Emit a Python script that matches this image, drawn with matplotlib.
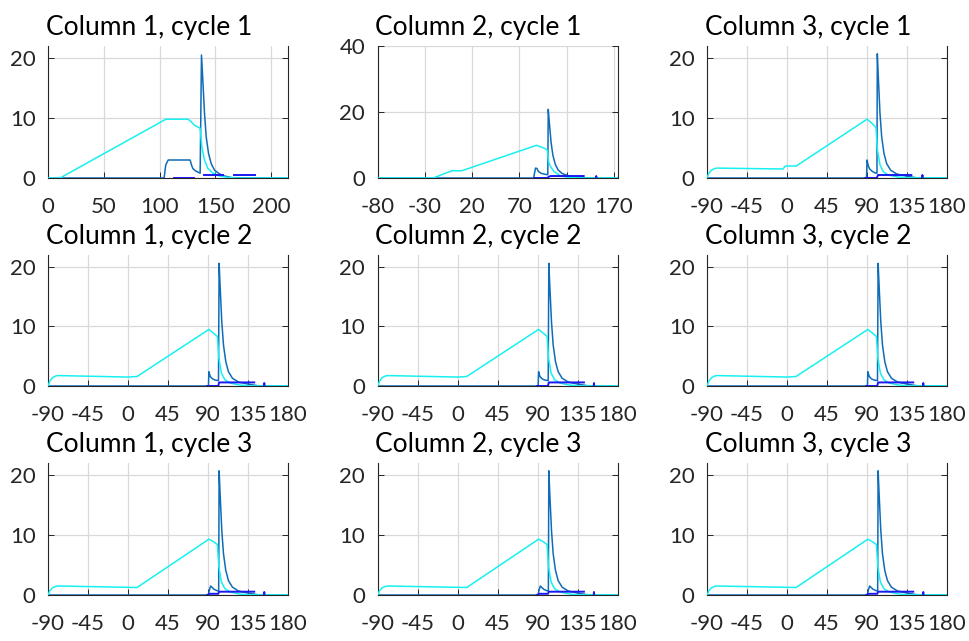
import numpy as np
import matplotlib
matplotlib.use("Agg")
import matplotlib.pyplot as plt

nan = np.nan

# ---- Column 1, cycle 1 ----
c1k1_cyan_x = [0, 10.8, 105.6, 125.5, 128.2, 131.2, 136.3, 137.8, 140.2, 143.2, 147.7, 153.7, 161, 168, 215]
c1k1_cyan_y = [0, 0, 9.8, 9.8, 9.4, 8.8, 8.3, 5.2, 3.0, 1.6, 0.8, 0.33, 0.1, 0, 0]
c1k1_mid_x = [0, 104, 105.5, 107.7, 127.3, 128.5, 129.7, 132, 136.3, 137.5, 138.7, 140.2, 141.7,
              143.8, 146.2, 149.2, 153.7, 158.2, 165, 215]
c1k1_mid_y = [0, 0, 2.2, 3.0, 3.0, 2.2, 1.6, 1.2, 0.8, 20.5, 16.3, 10.8, 6.9,
              4.1, 2.4, 1.3, 0.67, 0.33, 0.05, 0]
c1k1_blue_x = [113, 131, nan, 139.6, 156.7, nan, 167, 185]
c1k1_blue_y = [0, 0, nan, 0.5, 0.5, nan, 0.5, 0.5]

# ---- Column 2, cycle 1 ----
c2k1_cyan_x = [-80, -21.2, -1.6, 9, 88, 93, 97, 99.5, 100.8, 103, 106.5, 113.6, 124.3, 135, 174]
c2k1_cyan_y = [0, 0, 2.2, 2.2, 9.9, 9.4, 8.9, 8.4, 5.0, 3.4, 2.0, 0.6, 0.1, 0, 0]
c2k1_mid_x = [-80, 85, 86, 87, 88.5, 90, 93, 97.7, 100, 100.5, 101.6, 103.5, 105.4, 108,
              111, 115.5, 122, 130, 140, 174]
c2k1_mid_y = [0, 0, 1.5, 3.0, 2.9, 2.0, 1.4, 1.1, 1.0, 20.8, 16.9, 10.8, 6.9, 4.1,
              2.4, 1.3, 0.67, 0.3, 0.05, 0]
c2k1_blue_x = [86, 100, 100.5, 103, 138, nan, 151, 151.3, 151.6]
c2k1_blue_y = [0, 0, 0.3, 0.6, 0.6, nan, 0, 0.6, 0]

# ---- Column 3, cycle 1 ----
c3k1_cyan_x = [-90, -88, -85, -82, -78.8, -4.5, -2.5, -0.75, 10.5, 90, 95, 100.1, 101.7,
               104.6, 108.3, 114, 123.4, 135, 180]
c3k1_cyan_y = [0, 0.8, 1.3, 1.55, 1.65, 1.5, 1.9, 2.0, 2.0, 9.8, 9.2, 8.4, 4.7,
               2.2, 1.05, 0.5, 0.2, 0.02, 0]
c3k1_mid_x = [-90, 89.5, 90, 91.5, 93, 96, 99, 101.2, 101.6, 102.7, 104.6, 106.5, 109.1,
              112.1, 116.6, 123.4, 134.6, 145, 180]
c3k1_mid_y = [0, 0, 3.0, 2.0, 1.5, 1.1, 0.85, 0.8, 20.7, 16.9, 10.8, 6.9, 4.1,
              2.4, 1.3, 0.67, 0.3, 0.05, 0]
c3k1_blue_x = [88, 101, 102.4, 139.9, nan, 152, 152.3, 152.6]
c3k1_blue_y = [0, 0, 0.5, 0.5, nan, 0, 0.5, 0]

# ---- cycle 2 (all columns) ----
k2_cyan_x = [-90, -88, -85, -81, -78.3, 0.7, 5, 10.2, 91, 96, 100.6, 102.2, 105, 109, 115,
             124, 135, 180]
k2_cyan_y = [0, 0.8, 1.4, 1.7, 1.75, 1.5, 1.55, 1.6, 9.5, 8.9, 8.3, 4.7, 2.2, 1.05, 0.5,
             0.2, 0.02, 0]
k2_mid_x = [-90, 90.5, 91, 92.5, 95, 98, 101.8, 102.5, 103.6, 105.5, 107.4, 110, 113,
            117.5, 124.3, 135.5, 146, 180]
k2_mid_y = [0, 0, 2.4, 1.6, 1.2, 1.0, 0.9, 20.6, 16.9, 10.8, 6.9, 4.1, 2.4,
            1.3, 0.67, 0.3, 0.05, 0]
k2_blue_x = [89, 101.5, 102.5, 142, nan, 153, 153.3, 153.6]
k2_blue_y = [0, 0, 0.6, 0.6, nan, 0, 0.5, 0]

# ---- cycle 3 (all columns) ----
k3_cyan_x = [-90, -88, -85, -81, -78.3, 10.2, 91, 96, 100.6, 102.2, 105, 109, 115,
             124, 135, 180]
k3_cyan_y = [0, 0.7, 1.2, 1.45, 1.5, 1.25, 9.3, 8.9, 8.4, 4.7, 2.2, 1.05, 0.5,
             0.2, 0.02, 0]
k3_mid_x = [-90, 90.5, 91.5, 93, 96.8, 100.6, 102, 102.5, 103.6, 105.5, 107.4, 110, 113,
            117.5, 124.3, 135.5, 146, 180]
k3_mid_y = [0, 0, 0.8, 1.5, 0.95, 0.7, 0.65, 20.7, 16.9, 10.8, 6.9, 4.1, 2.4,
            1.3, 0.67, 0.3, 0.05, 0]
k3_blue_x = [89, 92, 101.5, 102.5, 142, nan, 153, 153.3, 153.6]
k3_blue_y = [0, 0.2, 0.2, 0.55, 0.55, nan, 0, 0.5, 0]

titles = [["Column 1, cycle 1", "Column 2, cycle 1", "Column 3, cycle 1"],
          ["Column 1, cycle 2", "Column 2, cycle 2", "Column 3, cycle 2"],
          ["Column 1, cycle 3", "Column 2, cycle 3", "Column 3, cycle 3"]]

xticks_deg = [-90, -45, 0, 45, 90, 135, 180]
xticks_c1k1 = [0, 50, 100, 150, 200]
xticks_c2k1 = [-80, -30, 20, 70, 120, 170]

CYAN = "#17F0F0"
MID = "#0F6CB8"
BLUE = "#1A1AF0"
TXT = "#262626"

plt.rcParams["font.family"] = ["Lato", "DejaVu Sans"]
plt.rcParams["axes.unicode_minus"] = False

fig = plt.figure(figsize=(9.70, 6.41), dpi=100)
W, H = 970.0, 641.0
lefts = [48, 377.7, 707]
boxes = [(46, 178), (255, 386), (463, 595)]
width = 240

for r in range(3):
    for c in range(3):
        top, bot = boxes[r]
        ax = fig.add_axes([lefts[c] / W, 1 - bot / H, width / W, (bot - top) / H])
        if r == 0 and c == 0:
            data = (c1k1_cyan_x, c1k1_cyan_y, c1k1_mid_x, c1k1_mid_y, c1k1_blue_x, c1k1_blue_y)
            xl, xt, yl, yt = (0, 215), xticks_c1k1, (0, 22), [0, 10, 20]
        elif r == 0 and c == 1:
            data = (c2k1_cyan_x, c2k1_cyan_y, c2k1_mid_x, c2k1_mid_y, c2k1_blue_x, c2k1_blue_y)
            xl, xt, yl, yt = (-80, 174), xticks_c2k1, (0, 40), [0, 20, 40]
        elif r == 0:
            data = (c3k1_cyan_x, c3k1_cyan_y, c3k1_mid_x, c3k1_mid_y, c3k1_blue_x, c3k1_blue_y)
            xl, xt, yl, yt = (-90, 180), xticks_deg, (0, 22), [0, 10, 20]
        elif r == 1:
            data = (k2_cyan_x, k2_cyan_y, k2_mid_x, k2_mid_y, k2_blue_x, k2_blue_y)
            xl, xt, yl, yt = (-90, 180), xticks_deg, (0, 22), [0, 10, 20]
        else:
            data = (k3_cyan_x, k3_cyan_y, k3_mid_x, k3_mid_y, k3_blue_x, k3_blue_y)
            xl, xt, yl, yt = (-90, 180), xticks_deg, (0, 22), [0, 10, 20]
        cx, cy, mx, my, bx, by = data
        ax.plot(mx, my, color=MID, lw=1.1, zorder=3)
        ax.plot(bx, by, color=BLUE, lw=1.4, zorder=4)
        ax.plot(cx, cy, color=CYAN, lw=1.1, zorder=3.5)

        ax.set_xlim(xl)
        ax.set_ylim(yl)
        ax.set_xticks(xt)
        ax.set_yticks(yt)
        ax.grid(True, color="#D9D9D9", lw=0.9)
        ax.set_axisbelow(True)
        ax.tick_params(direction="in", length=4, width=0.7, colors=TXT,
                       labelsize=16, right=True, top=False)
        ax.tick_params(axis="x", pad=14)
        ax.tick_params(axis="y", pad=9)
        for s in ["left", "right", "bottom"]:
            ax.spines[s].set_color(TXT)
            ax.spines[s].set_linewidth(0.8)
        ax.spines["top"].set_visible(False)
        ax.set_title(titles[r][c], loc="left", fontsize=19, pad=8, color="black", x=-0.01)

fig.savefig("out.png", dpi=100)
